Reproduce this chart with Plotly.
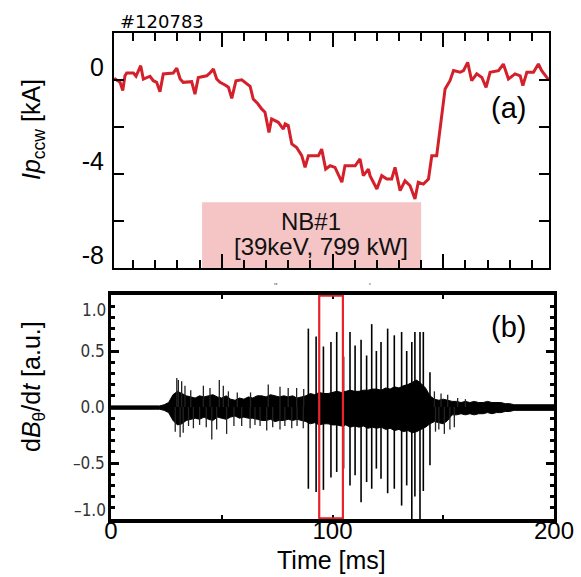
import plotly.graph_objects as go

W, H = 581, 577

# ---------- data: panel (a) plasma current ----------
ip_t = [1.4, 4.1, 5.3, 6.3, 7.1, 10.1, 11.3, 13.4, 14.6, 17.6,
        19.1, 20.6, 22.1, 23.6, 28.1, 29.7, 31.2, 32.6, 36.4, 37.9,
        39.4, 43.2, 44.7, 46.2, 47.7, 49.2, 51.5, 53.0, 54.5, 56.4,
        59.0, 61.3, 62.8, 64.2, 66.2, 68.0, 69.5, 71.3, 72.5, 75.5,
        77.8, 78.6, 80.0, 81.6, 83.8, 86.1, 87.6, 89.1, 93.6, 95.1,
        96.9, 98.9, 101.1, 104.2, 105.6, 110.2, 112.4, 113.9, 116.2, 116.9,
        120.0, 122.2, 124.5, 126.7, 128.2, 130.5, 132.7, 135.0, 137.2, 138.7,
        141.0, 143.3, 144.8, 147.0, 148.5, 150.8, 153.0, 154.6, 157.6, 159.1,
        161.0, 162.8, 165.1, 167.4, 169.3, 171.1, 174.9, 177.1, 179.4, 182.4,
        184.7, 185.9, 187.7, 190.7, 192.9, 194.4, 196.7, 197.7]
ip_kA = [0.07, -0.1, -0.45, 0.18, 0.3, 0.3, 0.16, 0.61, 0.04, 0.16,
         -0.03, -0.1, -0.5, 0.26, 0.3, 0.5, 0.04, -0.1, -0.07, -0.6,
         0.11, 0.18, 0.3, 0.47, 0.04, -0.1, -0.21, -0.31, -0.78, -0.03,
         0.01, -0.17, -0.27, -0.81, -1.0, -1.23, -1.37, -2.23, -1.66, -1.8,
         -2.09, -1.87, -1.94, -2.72, -2.87, -3.22, -3.72, -3.22, -3.22, -2.94,
         -3.79, -3.65, -3.72, -4.35, -3.65, -3.65, -3.36, -4.07, -3.79, -4.07,
         -4.64, -4.07, -4.21, -4.21, -3.72, -4.71, -4.29, -4.5, -5.06, -4.35,
         -4.43, -4.21, -3.22, -3.22, -2.09, -0.38, -0.03, 0.4, 0.33, 0.4,
         0.75, -0.03, 0.26, 0.11, -0.31, 0.33, 0.4, 0.68, 0.04, 0.26,
         0.18, -0.24, 0.33, 0.33, 0.68, 0.4, 0.11, 0.0]

nb_on, nb_off, nb_top = 41.1, 140.0, -5.2

# tick labels
ya_vals = [-8, -4, 0]
ya_text = ["-8", "-4", "0"]
xb_vals = [0, 100, 200]
xb_text = ["0", "100", "200"]
yb_vals = [-0.5, 0, 0.5]
yb_text = ["–0.5", "0.0", "0.5"]

# ---------- data: panel (b) magnetic probe signal ----------
band_t = [0, 2, 4, 6, 8, 10, 12, 14, 16, 18, 20, 22,
          24, 26, 28, 30, 32, 34, 36, 38,
          40, 42, 44, 46, 48, 50, 52, 54, 56, 58,
          60, 62, 64, 66, 68, 70, 72, 74, 76, 78,
          80, 82, 84, 86, 88, 90, 92, 94, 96, 98,
          100, 102, 104, 106, 108, 110, 112, 114, 116, 118,
          120, 122, 124, 126, 128, 130, 132, 134, 136, 138,
          140, 142, 144, 146, 148, 150, 152, 154, 156, 158,
          160, 162, 164, 166, 168, 170, 172, 174, 176, 178,
          180, 182, 184, 186, 188, 190, 192, 194, 196, 198, 200]
band_hi = [0.01, 0.01, 0.01, 0.01, 0.01, 0.01, 0.01, 0.01, 0.01, 0.01, 0.01, 0.01,
           0.02, 0.04, 0.11, 0.14, 0.12, 0.10, 0.09, 0.08,
           0.10, 0.09, 0.10, 0.11, 0.09, 0.08, 0.10, 0.07, 0.06, 0.08,
           0.07, 0.09, 0.08, 0.10, 0.10, 0.09, 0.11, 0.10, 0.09, 0.10,
           0.09, 0.10, 0.08, 0.09, 0.10, 0.12, 0.11, 0.13, 0.12, 0.12,
           0.13, 0.14, 0.13, 0.14, 0.15, 0.14, 0.14, 0.15, 0.15, 0.16,
           0.16, 0.15, 0.17, 0.16, 0.18, 0.17, 0.19, 0.20, 0.22, 0.24,
           0.21, 0.17, 0.10, 0.07, 0.06, 0.07, 0.06, 0.05, 0.05, 0.04,
           0.05, 0.04, 0.05, 0.04, 0.04, 0.05, 0.04, 0.04, 0.04, 0.03,
           0.03, 0.02, 0.02, 0.02, 0.02, 0.02, 0.02, 0.02, 0.02, 0.02, 0.02]
band_lo = [-0.02, -0.02, -0.02, -0.02, -0.02, -0.02, -0.02, -0.02, -0.02, -0.02, -0.02, -0.02,
           -0.03, -0.05, -0.12, -0.16, -0.15, -0.12, -0.11, -0.10,
           -0.11, -0.09, -0.11, -0.12, -0.09, -0.10, -0.11, -0.09, -0.08, -0.10,
           -0.09, -0.10, -0.10, -0.11, -0.12, -0.12, -0.11, -0.13, -0.12, -0.12,
           -0.11, -0.12, -0.11, -0.12, -0.13, -0.15, -0.14, -0.16, -0.15, -0.15,
           -0.16, -0.16, -0.17, -0.16, -0.18, -0.17, -0.18, -0.17, -0.19, -0.18,
           -0.19, -0.18, -0.20, -0.19, -0.21, -0.20, -0.22, -0.21, -0.23, -0.22,
           -0.20, -0.18, -0.15, -0.13, -0.14, -0.15, -0.12, -0.07, -0.07, -0.06,
           -0.07, -0.06, -0.07, -0.06, -0.06, -0.05, -0.06, -0.05, -0.05, -0.04,
           -0.04, -0.03, -0.03, -0.03, -0.03, -0.03, -0.03, -0.03, -0.03, -0.03, -0.03]

# thin whiskers sticking out of the band
up_t = [29.7, 30.4, 31.9, 33.4, 36.0, 41.7, 44.7, 48.9, 50.7, 53.0, 57.0,
        63.0, 71.0, 76.3, 80.0, 83.8, 87.0, 146.0, 149.0, 152.0, 156.5, 160.0]
up_v = [0.26, 0.24, 0.23, 0.19, 0.15, 0.19, 0.17, 0.24, 0.19, 0.14, 0.13,
        0.13, 0.20, 0.18, 0.17, 0.17, 0.16, 0.14, 0.12, 0.11, 0.08, 0.07]
dn_t = [29.0, 31.2, 32.6, 35.0, 37.2, 40.0, 43.0, 45.5, 47.7, 52.2, 55.5,
        59.0, 62.8, 65.0, 67.3, 70.3, 73.0, 76.3, 78.5, 81.6, 84.0, 86.8,
        146.5, 148.0, 150.5, 153.0, 155.0]
dn_v = [-0.22, -0.27, -0.23, -0.17, -0.19, -0.16, -0.18, -0.29, -0.20, -0.24, -0.17,
        -0.17, -0.19, -0.16, -0.17, -0.21, -0.18, -0.20, -0.17, -0.19, -0.17, -0.19,
        -0.22, -0.20, -0.24, -0.20, -0.18]

spike_t = [89.1, 92.6, 95.9, 99.3, 101.9, 105.0, 107.9, 110.2, 112.9, 115.4,
           117.7, 119.8, 121.9, 124.9, 127.9, 131.2, 133.5, 135.8, 137.2, 139.5,
           141.0, 144.0]
spike_hi = [0.70, 0.63, 0.54, 0.58, 0.67, 0.45, 0.67, 0.55, 0.60, 0.46,
            0.74, 0.50, 0.58, 0.70, 0.64, 0.67, 0.50, 0.58, 0.67, 0.67,
            0.67, 0.31]
spike_lo = [-0.73, -0.76, -0.74, -0.63, -0.58, -0.55, -0.70, -0.61, -0.85, -0.67,
            -0.73, -0.55, -0.64, -0.77, -0.73, -0.88, -0.70, -1.0, -0.80, -1.0,
            -0.75, -0.52]

window_t0, window_t1 = 94.0, 104.7

# ---------- helpers (pixel -> paper) ----------
def px(x):
    return x / W

def py(y):
    return 1 - y / H

FONT = "Liberation Sans, Arial, sans-serif"
NARROW = "Liberation Sans Narrow, DejaVu Sans Condensed, sans-serif"
RED = "#d4202a"

fig = go.Figure()

# panel (a)
fig.add_trace(go.Scatter(x=ip_t, y=ip_kA, mode="lines", xaxis="x", yaxis="y",
                         line=dict(color=RED, width=3), showlegend=False))

# panel (b): dense band
poly_x = band_t + band_t[::-1]
poly_y = band_hi + band_lo[::-1]
fig.add_trace(go.Scatter(x=poly_x, y=poly_y, mode="lines", fill="toself",
                         fillcolor="black", line=dict(color="black", width=1),
                         xaxis="x2", yaxis="y2", showlegend=False))
# whiskers
wx, wy = [], []
for t, v in zip(up_t, up_v):
    wx += [t, t, None]
    wy += [0, v, None]
for t, v in zip(dn_t, dn_v):
    wx += [t, t, None]
    wy += [0, v, None]
fig.add_trace(go.Scatter(x=wx, y=wy, mode="lines", line=dict(color="#222", width=1.3),
                         xaxis="x2", yaxis="y2", showlegend=False))
# big spikes
sx, sy = [], []
for t, hi, lo in zip(spike_t, spike_hi, spike_lo):
    sx += [t, t, None]
    sy += [lo, hi, None]
fig.add_trace(go.Scatter(x=sx, y=sy, mode="lines", line=dict(color="black", width=1.6),
                         xaxis="x2", yaxis="y2", showlegend=False))

shapes = [
    dict(type="rect", xref="x", yref="y", x0=nb_on, x1=nb_off, y0=-8, y1=nb_top,
         fillcolor="#f5c5c6", line=dict(width=0), layer="below"),
    dict(type="rect", xref="x2", yref="y2", x0=window_t0, x1=window_t1, y0=-0.995, y1=0.995,
         line=dict(color="#e8232b", width=2.2), fillcolor="rgba(0,0,0,0)"),
]

annotations = [
    dict(text="#120783", x=px(118), y=py(21), xanchor="left", yanchor="middle",
         font=dict(family="DejaVu Sans", size=18, color="black")),
    dict(text="<i>Ip</i><sub>ccw</sub> [kA]", x=px(33), y=py(130), textangle=-90,
         xanchor="center", yanchor="middle", font=dict(family=FONT, size=25, color="black")),
    dict(text="(a)", x=px(508), y=py(108), xanchor="center", yanchor="middle",
         font=dict(family=FONT, size=29, color="black")),
    dict(text="NB#1", x=px(311), y=py(221), xanchor="center", yanchor="middle",
         font=dict(family=FONT, size=24, color="#111")),
    dict(text="[39keV, 799 kW]", x=px(321), y=py(247), xanchor="center", yanchor="middle",
         font=dict(family=FONT, size=24, color="#111")),
    dict(text="d<i>B</i><sub>θ</sub>/d<i>t</i> [a.u.]", x=px(33), y=py(387), textangle=-90,
         xanchor="center", yanchor="middle", font=dict(family=FONT, size=25, color="black")),
    dict(text="(b)", x=px(508), y=py(327), xanchor="center", yanchor="middle",
         font=dict(family=FONT, size=29, color="black")),
    dict(text="1.0", xref="paper", yref="y2", x=px(108), y=0.866, xanchor="right", yanchor="middle",
         font=dict(family=NARROW, size=17, color="#333")),
    dict(text="–1.0", xref="paper", yref="y2", x=px(108), y=-0.92, xanchor="right", yanchor="middle",
         font=dict(family=NARROW, size=17, color="#333")),
    dict(text="Time [ms]", x=px(331), y=py(560), xanchor="center", yanchor="middle",
         font=dict(family=FONT, size=25, color="black")),
    dict(text="''", x=px(276), y=py(286), xanchor="center", yanchor="middle",
         font=dict(family=FONT, size=9, color="#555")),
    dict(text="'", x=px(370), y=py(286), xanchor="center", yanchor="middle",
         font=dict(family=FONT, size=9, color="#555")),
]
for a in annotations:
    a.setdefault("xref", "paper")
    a.setdefault("yref", "paper")
    a["showarrow"] = False

fig.update_layout(
    template="none",
    width=W, height=H, autosize=False,
    margin=dict(l=0, r=0, t=0, b=0, pad=0),
    paper_bgcolor="white", plot_bgcolor="white",
    showlegend=False,
    shapes=shapes, annotations=annotations,
    xaxis=dict(domain=[px(114), px(549)], range=[1.35, 197.7], anchor="y", automargin=False,
               showgrid=False, zeroline=False, showticklabels=False,
               showline=True, linecolor="black", linewidth=2, mirror="ticks",
               ticks="inside", tick0=0, dtick=50, ticklen=14, tickwidth=2, tickcolor="black",
               minor=dict(dtick=10, ticks="inside", ticklen=8, tickwidth=2, tickcolor="black",
                          showgrid=False)),
    yaxis=dict(domain=[py(268), py(33)], range=[-8, 2], anchor="x", automargin=False,
               showgrid=False, zeroline=False,
               showline=True, linecolor="black", linewidth=2, mirror="ticks",
               ticks="inside", ticklen=10, tickwidth=2, tickcolor="black",
               tickvals=ya_vals, ticktext=ya_text,
               ticklabelshift=-13, ticklabelstandoff=3,
               tickfont=dict(family=FONT, size=25, color="black"),
               minor=dict(tick0=0, dtick=2, ticks="inside", ticklen=10, tickwidth=2,
                          tickcolor="black", showgrid=False)),
    xaxis2=dict(domain=[px(111), px(554)], range=[0, 200], anchor="y2", automargin=False,
                showgrid=False, zeroline=False,
                showline=True, linecolor="black", linewidth=4, mirror="ticks",
                ticks="inside", tickvals=xb_vals, ticktext=xb_text,
                ticklen=4, tickwidth=2, tickcolor="black",
                ticklabelstandoff=-13,
                tickfont=dict(family=FONT, size=24, color="black"),
                minor=dict(tick0=0, dtick=50, ticks="inside", ticklen=4, tickwidth=2,
                           tickcolor="black", showgrid=False)),
    yaxis2=dict(domain=[py(519), py(295)], range=[-1, 1], anchor="x2", automargin=False,
                showgrid=False, zeroline=False,
                showline=True, linecolor="black", linewidth=2.5, mirror="ticks",
                ticks="inside", tickvals=yb_vals, ticktext=yb_text,
                ticklen=8, tickwidth=3, tickcolor="black",
                tickfont=dict(family=NARROW, size=17, color="#333"),
                minor=dict(tick0=0, dtick=0.1, ticks="inside", ticklen=4, tickwidth=2.5,
                           tickcolor="black", showgrid=False)),
)

fig.write_html("out.html", config={"displayModeBar": False},
               post_script="document.body.style.margin='0';document.body.style.overflow='hidden';")
